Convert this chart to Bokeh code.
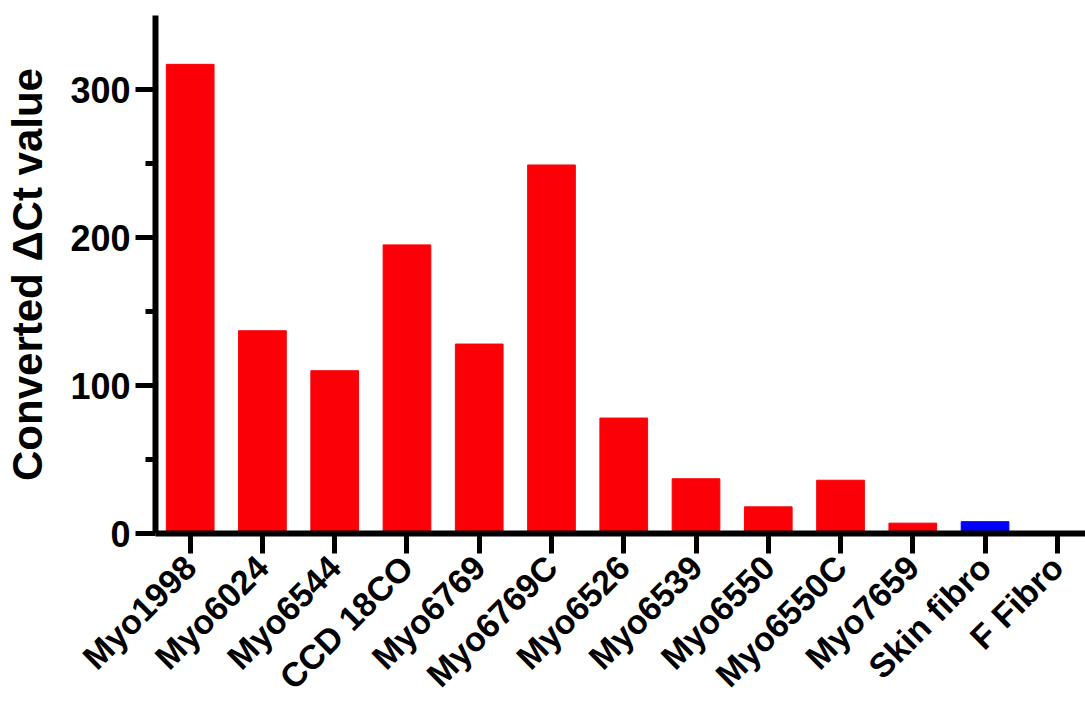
from bokeh.plotting import figure
from bokeh.models import FixedTicker, Range1d, ColumnDataSource
from bokeh.embed import file_html
from bokeh.resources import INLINE
import math

categories = ["Myo1998", "Myo6024", "Myo6544", "CCD 18CO", "Myo6769", "Myo6769C",
              "Myo6526", "Myo6539", "Myo6550", "Myo6550C", "Myo7659", "Skin fibro", "F Fibro"]
values = [317, 137, 110, 195, 128, 249, 78, 37, 18, 36, 7, 8, 0]
bar_colors = ["#FB0007"] * 11 + ["#0000FF", "#0000FF"]
y_ticks = [0, 100, 200, 300]
y_minor = [50, 150, 250]

FONT = "Liberation Sans"

p = figure(width=1085, height=715, output_backend="svg", toolbar_location=None,
           x_range=Range1d(-0.48, 12.39), y_range=Range1d(0, 350),
           min_border_left=155, min_border_right=0, min_border_top=15, min_border_bottom=182)
p.outline_line_color = None
p.xgrid.visible = False
p.ygrid.visible = False

xs = list(range(len(categories)))
src = ColumnDataSource(dict(x=xs, top=values, color=bar_colors))
p.vbar(x="x", top="top", bottom=0, width=0.66, color="color", source=src)

# y axis
ya = p.yaxis[0]
ya.ticker = FixedTicker(ticks=y_ticks, minor_ticks=y_minor)
ya.axis_line_width = 6
ya.major_tick_line_width = 5
ya.minor_tick_line_width = 5
ya.major_tick_out = 20
ya.major_tick_in = 0
ya.minor_tick_out = 10
ya.minor_tick_in = 0
ya.major_label_text_font = FONT
ya.major_label_text_font_style = "bold"
ya.major_label_text_font_size = "36px"
ya.major_label_text_color = "black"
ya.major_label_standoff = 5
ya.axis_label = "Converted \u0394Ct value"
ya.axis_label_text_font = FONT
ya.axis_label_text_font_style = "bold"
ya.axis_label_text_font_size = "42px"
ya.axis_label_text_color = "black"
ya.axis_label_standoff = 16

# x axis
xa = p.xaxis[0]
xa.ticker = FixedTicker(ticks=xs, minor_ticks=[])
xa.major_label_overrides = {i: c for i, c in enumerate(categories)}
xa.axis_line_width = 6
xa.major_tick_line_width = 5
xa.major_tick_out = 20
xa.major_tick_in = 0
xa.minor_tick_out = 0
xa.minor_tick_in = 0
xa.major_label_orientation = math.pi / 4
xa.major_label_text_font = FONT
xa.major_label_text_font_style = "bold"
xa.major_label_text_font_size = "34px"
xa.major_label_text_color = "black"
xa.major_label_standoff = 8

open("out.html", "w").write(file_html(p, INLINE))
